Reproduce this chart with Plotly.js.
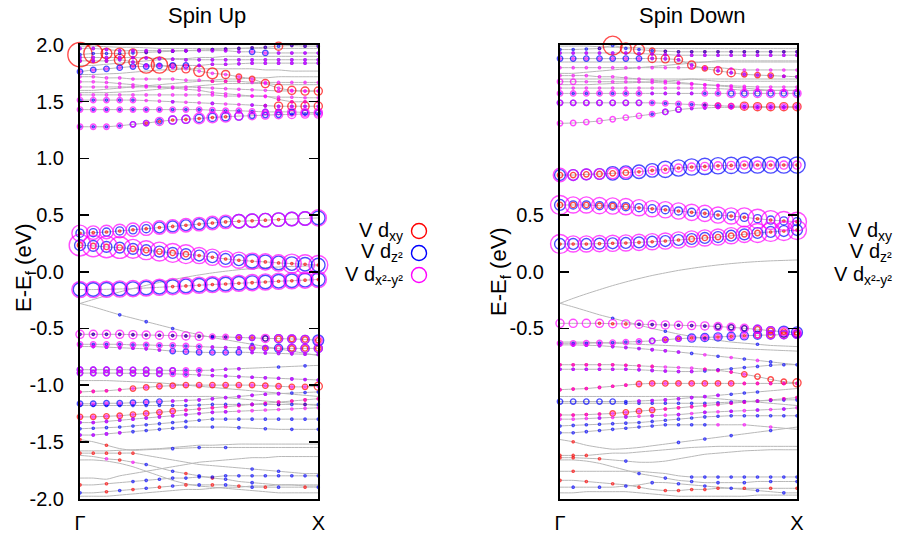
<!DOCTYPE html>
<html><head><meta charset="utf-8">
<script src="https://cdn.plot.ly/plotly-3.0.1.min.js"></script>
<style>html,body{margin:0;padding:0;background:#fff}#chart{width:902px;height:533px}</style>
</head><body><div id="chart"></div>
<script>
// k-point index along Γ → X (19 points)
const kpts = [0,1,2,3,4,5,6,7,8,9,10,11,12,13,14,15,16,17,18];
const kTickLabels = ['Γ','X'];
const orbitalNames = ['V d<sub>xy</sub>','V d<sub>z²</sub>','V d<sub>x²-y²</sub>'];
const panelTitles = ['Spin Up','Spin Down'];
const yTickVals = [-2,-1.5,-1,-0.5,0,0.5,1,1.5,2];
const yTickText = ['-2.0','-1.5','-1.0','-0.5','0.0','0.5','1.0','1.5','2.0'];
const dnTickVals = [-0.5,0,0.5];
const dnTickText = ['-0.5','0.0','0.5'];

// ---------- Spin up: band energies (eV) with projections ----------
const upE = [
[0.34,0.345,0.35,0.36,0.37,0.38,0.39,0.40,0.41,0.42,0.43,0.44,0.445,0.45,0.455,0.46,0.465,0.47,0.475],
[0.234,0.228,0.219,0.213,0.202,0.19,0.178,0.166,0.155,0.143,0.128,0.113,0.102,0.093,0.087,0.078,0.072,0.066,0.06],
[-0.157,-0.157,-0.155,-0.152,-0.149,-0.143,-0.137,-0.131,-0.125,-0.119,-0.113,-0.108,-0.102,-0.096,-0.09,-0.084,-0.079,-0.074,-0.068],
[-0.552,-0.552,-0.552,-0.552,-0.555,-0.558,-0.56,-0.563,-0.566,-0.57,-0.572,-0.575,-0.58,-0.583,-0.588,-0.59,-0.593,-0.597,-0.605],
[-0.64,-0.64,-0.64,-0.64,-0.645,-0.645,-0.65,-0.65,-0.655,-0.66,-0.665,-0.668,-0.67,-0.672,-0.674,-0.675,-0.676,-0.676,-0.676],
[-0.66,-0.66,-0.665,-0.67,-0.675,-0.68,-0.69,-0.70,-0.705,-0.71,-0.712,-0.712,-0.71,-0.712,-0.716,-0.72,-0.724,-0.728,-0.73],
[-0.28,-0.31,-0.345,-0.38,-0.41,-0.44,-0.47,-0.50,-0.53,-0.555,-0.58,-0.60,-0.62,-0.64,-0.66,-0.68,-0.70,-0.72,-0.74],
[-0.864,-0.864,-0.864,-0.864,-0.865,-0.866,-0.868,-0.87,-0.87,-0.87,-0.868,-0.86,-0.855,-0.85,-0.845,-0.84,-0.835,-0.83,-0.826],
[-0.894,-0.894,-0.894,-0.895,-0.896,-0.898,-0.9,-0.9,-0.905,-0.91,-0.915,-0.92,-0.925,-0.93,-0.935,-0.94,-0.945,-0.95,-0.955],
[-1.06,-1.055,-1.05,-1.04,-1.03,-1.02,-1.01,-1.005,-1.0,-1.0,-1.0,-1.0,-1.0,-1.0,-1.005,-1.01,-1.015,-1.015,-1.01],
[-1.164,-1.164,-1.16,-1.16,-1.155,-1.15,-1.145,-1.14,-1.135,-1.13,-1.12,-1.11,-1.1,-1.09,-1.08,-1.075,-1.07,-1.065,-1.06],
[-1.18,-1.18,-1.18,-1.18,-1.18,-1.18,-1.18,-1.18,-1.18,-1.175,-1.17,-1.17,-1.17,-1.17,-1.17,-1.17,-1.17,-1.17,-1.17],
[-1.28,-1.28,-1.275,-1.27,-1.26,-1.25,-1.24,-1.23,-1.22,-1.21,-1.2,-1.19,-1.18,-1.17,-1.16,-1.15,-1.14,-1.13,-1.12],
[-1.33,-1.33,-1.32,-1.31,-1.3,-1.29,-1.28,-1.27,-1.26,-1.25,-1.24,-1.235,-1.23,-1.225,-1.22,-1.215,-1.21,-1.205,-1.2],
[-1.385,-1.38,-1.375,-1.37,-1.36,-1.35,-1.34,-1.33,-1.32,-1.31,-1.3,-1.3,-1.3,-1.3,-1.3,-1.3,-1.3,-1.3,-1.3],
[-1.44,-1.44,-1.43,-1.42,-1.41,-1.4,-1.39,-1.38,-1.37,-1.37,-1.37,-1.37,-1.375,-1.38,-1.385,-1.39,-1.39,-1.39,-1.39],
[-1.48,-1.5,-1.53,-1.56,-1.575,-1.57,-1.565,-1.56,-1.555,-1.55,-1.55,-1.55,-1.55,-1.55,-1.55,-1.55,-1.55,-1.55,-1.55],
[-1.6,-1.6,-1.6,-1.6,-1.6,-1.62,-1.64,-1.66,-1.68,-1.7,-1.71,-1.72,-1.73,-1.74,-1.75,-1.76,-1.77,-1.78,-1.78],
[-1.62,-1.63,-1.65,-1.66,-1.68,-1.7,-1.73,-1.76,-1.78,-1.8,-1.82,-1.83,-1.85,-1.86,-1.87,-1.88,-1.88,-1.89,-1.89],
[-1.88,-1.88,-1.87,-1.86,-1.85,-1.84,-1.83,-1.82,-1.82,-1.81,-1.81,-1.8,-1.8,-1.8,-1.8,-1.8,-1.8,-1.8,-1.8],
[-1.95,-1.95,-1.94,-1.93,-1.92,-1.91,-1.9,-1.89,-1.88,-1.88,-1.88,-1.88,-1.89,-1.9,-1.9,-1.9,-1.9,-1.9,-1.9],
[1.279,1.279,1.279,1.288,1.3,1.311,1.326,1.338,1.344,1.352,1.361,1.367,1.373,1.376,1.382,1.385,1.388,1.391,1.391],
[1.43,1.43,1.43,1.43,1.43,1.43,1.43,1.43,1.43,1.43,1.425,1.42,1.42,1.415,1.41,1.41,1.41,1.405,1.405],
[1.514,1.514,1.514,1.514,1.514,1.51,1.505,1.5,1.495,1.49,1.485,1.48,1.475,1.47,1.465,1.46,1.46,1.46,1.46],
[1.63,1.63,1.63,1.63,1.63,1.63,1.63,1.63,1.63,1.625,1.62,1.615,1.61,1.605,1.6,1.595,1.595,1.594,1.594],
[1.915,1.925,1.925,1.925,1.93,1.935,1.94,1.945,1.95,1.955,1.96,1.965,1.97,1.975,1.98,1.99,1.995,1.99,1.99],
[1.86,1.86,1.86,1.87,1.85,1.823,1.823,1.80,1.79,1.77,1.75,1.74,1.72,1.70,1.66,1.62,1.6,1.594,1.594],
[1.765,1.78,1.79,1.80,1.81,1.81,1.815,1.82,1.82,1.82,1.83,1.83,1.835,1.84,1.84,1.84,1.84,1.84,1.84],
[1.97,1.97,1.96,1.95,1.95,1.95,1.95,1.95,1.95,1.95,1.95,1.95,1.94,1.94,1.93,1.93,1.93,1.93,1.93],
[1.89,1.89,1.89,1.89,1.89,1.885,1.88,1.875,1.87,1.87,1.87,1.87,1.87,1.87,1.87,1.87,1.87,1.87,1.87],
[1.72,1.72,1.71,1.71,1.70,1.70,1.70,1.70,1.69,1.69,1.68,1.68,1.68,1.67,1.67,1.67,1.67,1.67,1.67],
[1.675,1.675,1.67,1.66,1.65,1.64,1.63,1.62,1.61,1.6,1.58,1.57,1.56,1.55,1.545,1.54,1.54,1.535,1.535],
[1.56,1.56,1.56,1.56,1.56,1.56,1.56,1.56,1.56,1.56,1.56,1.55,1.55,1.55,1.55,1.52,1.5,1.5,1.5]
];
// projection weights per band (0 = none), same order as upE
const upXY = [
[1,1,1,1,1,1,1,1,1,1,1,1,1,1,1,1,0,0,0],
[2,2,2,2,2,2,2,2,2,1,1,1,1,1,1,1,1,1,1],
[0,0,0,0,0,0,0,1,1,1,1,1,1,1,1,1,1,1,1],
[1,1,1,1,1,1,1,1,1,1,1,1,1,1,2,2,2,2,2],
[0,0,0,0,0,0,0,0,0,0,0,0,0,1,1,2,2,2,2],
null,null,null,null,
[1,1,1,1,2,2,2,2,2,2,2,2,2,2,2,2,2,2,3],
null,
[0,0,0,0,0,0,0,0,0,0,0,0,0,0,0,1,0,1,0],
[2,2,2,2,2,2,2,2,1,1,1,1,1,1,1,1,1,1,1],
null,null,null,
[1,0,1,0,0,0,0,0,0,0,0,0,0,0,0,0,0,0,0],
[1,1,1,1,1,0,0,0,0,0,0,0,0,0,0,0,0,0,0],
[0,0,0,1,0,0,0,0,1,0,1,0,0,0,0,0,0,0,0],
[1,0,1,0,0,0,0,0,0,0,0,0,0,0,0,0,0,0,0],
[0,0,1,0,1,0,1,0,1,0,1,0,1,0,1,0,0,1,0],
[0,0,0,0,0,1,1,1,1,1,1,1,0,0,0,0,0,0,0],
null,
[0,0,0,0,0,0,0,0,0,0,0,0,0,0,1,3,3,3,3],
null,
[9,7,4,4,3,1,1,1,1,1,1,1,1,1,1,3,1,1,1],
[1,1,1,4,3,6,6,3,3,4,4,3,2,2,3,3,3,3,3],
null,null,null,
[0,0,0,0,0,0,0,0,0,0,1,1,1,0,0,0,0,0,0],
null,
[0,0,0,0,0,0,0,0,0,0,0,0,0,0,0,1,1,1,1]
];
const upZ2 = [
[3,3,3,3,3,3,4,4,4,4,4,4,5,5,5,5,5,5,5],
[4,4,4,4,4,4,4,4,4,4,4,4,4,5,5,5,5,5,5],
[5,5,5,5,5,5,5,5,5,5,5,5,5,5,5,5,5,5,5],
[1,1,1,1,1,1,1,1,1,1,1,1,2,2,2,3,3,3,4],
[1,1,1,1,1,1,1,1,1,1,1,1,1,2,2,3,3,3,3],
[1,1,1,1,1,1,1,2,2,2,2,2,2,1,1,1,1,1,1],
[0,0,0,1,0,1,0,1,0,0,1,0,0,1,0,0,0,0,0],
[2,2,2,2,2,2,2,2,1,1,1,1,1,0,0,1,0,1,0],
[2,2,2,2,2,2,2,1,1,1,1,1,1,1,1,1,1,1,1],
null,
[2,2,2,2,2,2,2,1,1,1,1,1,1,1,1,1,1,1,1],
[1,1,1,1,1,1,1,1,1,1,1,1,1,1,1,1,1,1,1],
null,
[1,1,1,1,1,1,1,1,1,1,1,1,0,0,0,0,0,0,0],
[1,1,1,1,1,1,1,1,1,1,1,1,1,1,1,1,1,1,1],
[1,1,1,1,1,1,1,1,1,0,1,0,1,0,1,0,1,0,1],
[0,0,0,0,0,0,0,1,0,1,0,1,0,0,0,0,0,0,0],
[0,0,0,0,0,0,0,0,0,0,0,0,0,1,0,1,0,0,0],
[0,0,0,0,0,1,0,1,0,1,0,1,0,1,0,0,0,0,0],
[0,0,0,0,1,1,1,1,1,1,1,1,1,1,1,1,1,1,1],
[1,0,0,1,0,1,0,1,0,1,0,1,0,1,0,1,0,0,1],
[1,1,1,1,2,2,2,3,3,3,3,3,3,2,2,2,1,1,1],
[1,1,1,1,1,1,1,1,1,1,1,1,1,1,2,2,2,2,2],
[1,1,1,1,1,0,0,1,0,0,1,0,0,1,1,1,1,1,1],
null,
[1,1,1,1,1,1,1,1,1,1,1,1,1,1,1,1,1,1,1],
[1,1,1,1,1,1,1,0,0,0,0,0,0,0,0,0,0,0,0],
[2,2,2,2,2,2,2,2,2,1,1,1,1,1,1,1,1,1,1],
[1,1,1,1,1,1,1,1,1,1,1,1,1,2,2,1,1,1,1],
[1,1,1,1,1,1,1,1,1,1,1,1,1,1,1,1,1,1,1],
null,null,null
];
const upX2 = [
[6,5,5,5,5,5,5,5,5,5,5,5,5,5,5,5,5,5,6],
[8,8,8,8,7,7,7,7,7,6,6,6,6,6,6,6,7,7,7],
[6,6,6,6,6,6,6,6,6,6,6,6,6,6,6,6,6,6,6],
[3,3,3,3,3,3,3,3,3,3,2,2,2,2,3,3,3,3,3],
[2,2,2,2,2,2,2,2,2,2,1,1,1,2,2,2,3,3,3],
[1,1,1,1,1,1,1,1,1,1,1,1,1,1,1,1,1,1,1],
null,
[2,2,2,2,2,2,2,2,2,2,1,1,1,0,0,0,0,0,0],
[2,2,2,2,2,2,2,2,2,1,1,1,1,1,1,1,1,1,1],
[1,1,1,1,1,1,1,1,1,1,1,1,1,1,1,1,1,1,1],
[1,1,1,1,1,1,1,1,1,1,1,1,1,1,1,1,0,0,0],
null,
[1,1,1,1,1,1,1,1,1,1,1,1,1,1,1,1,1,1,1],
[1,1,1,1,1,1,1,1,1,1,1,1,1,1,1,1,1,1,1],
null,
[1,1,1,1,0,0,0,0,0,0,0,0,0,0,0,0,0,0,0],
null,null,
[0,0,1,0,1,0,0,0,0,0,0,0,0,0,0,0,0,0,0],
null,null,
[2,2,2,2,2,2,3,3,3,4,4,4,3,3,3,3,3,3,3],
[2,2,2,2,2,2,2,2,2,2,2,2,2,2,2,2,3,3,3],
[2,2,2,2,2,1,1,1,1,1,1,1,1,1,1,1,1,1,1],
[1,1,1,1,1,1,1,1,1,1,1,1,1,1,1,1,1,1,1],
null,
[1,1,1,1,1,1,1,1,1,1,1,1,1,1,1,1,1,1,1],
[1,1,1,1,1,1,1,1,1,1,1,1,1,1,1,1,1,1,1],
[1,1,1,1,1,1,1,1,1,1,1,1,1,1,1,1,1,1,1],
[1,1,1,1,1,1,1,1,1,1,1,1,1,1,1,1,1,1,1],
[1,1,1,1,1,1,1,1,1,1,1,1,1,1,1,1,1,1,1],
[1,1,1,1,1,1,1,1,1,1,1,1,1,1,1,1,1,1,1],
[1,1,1,1,1,1,1,1,1,1,1,1,1,1,1,1,1,1,1]
];
// bands drawn only as grey lines (spin up)
const upGray = [
[-0.28,-0.245,-0.21,-0.178,-0.148,-0.12,-0.094,-0.07,-0.048,-0.028,-0.01,0.005,0.018,0.028,0.036,0.042,0.047,0.05,0.053],
[-1.82,-1.82,-1.83,-1.8,-1.78,-1.76,-1.74,-1.72,-1.7,-1.68,-1.67,-1.66,-1.65,-1.64,-1.64,-1.63,-1.63,-1.63,-1.63],
[-1.66,-1.66,-1.67,-1.69,-1.72,-1.76,-1.8,-1.84,-1.87,-1.89,-1.9,-1.91,-1.92,-1.93,-1.94,-1.95,-1.95,-1.95,-1.95],
[-1.98,-1.98,-1.98,-1.97,-1.96,-1.95,-1.94,-1.93,-1.92,-1.92,-1.91,-1.9,-1.9,-1.89,-1.89,-1.88,-1.88,-1.88,-1.88],
[-1.58,-1.58,-1.58,-1.575,-1.57,-1.565,-1.56,-1.55,-1.54,-1.53,-1.53,-1.525,-1.52,-1.52,-1.52,-1.52,-1.52,-1.52,-1.52],
[-0.96,-0.96,-0.96,-0.965,-0.97,-0.975,-0.98,-0.99,-1.0,-1.01,-1.02,-1.03,-1.04,-1.05,-1.06,-1.07,-1.08,-1.09,-1.1],
[-1.1,-1.1,-1.1,-1.1,-1.1,-1.1,-1.1,-1.1,-1.1,-1.1,-1.1,-1.11,-1.12,-1.13,-1.14,-1.15,-1.16,-1.17,-1.18],
[1.99,1.99,1.985,1.98,1.98,1.975,1.97,1.97,1.97,1.97,1.97,1.97,1.97,1.97,1.97,1.97,1.97,1.97,1.97],
[1.82,1.82,1.83,1.84,1.85,1.86,1.87,1.88,1.88,1.89,1.89,1.9,1.9,1.9,1.9,1.9,1.9,1.9,1.9],
[1.74,1.74,1.745,1.75,1.76,1.77,1.78,1.78,1.79,1.79,1.79,1.79,1.79,1.79,1.78,1.78,1.77,1.77,1.77],
[1.6,1.6,1.61,1.62,1.63,1.64,1.65,1.66,1.67,1.68,1.69,1.7,1.7,1.71,1.71,1.72,1.72,1.72,1.72],
[1.58,1.58,1.58,1.585,1.59,1.6,1.61,1.62,1.63,1.64,1.65,1.66,1.66,1.66,1.66,1.65,1.65,1.65,1.65]
];

// ---------- Spin down ----------
const dnE = [
[0.853,0.853,0.859,0.862,0.868,0.874,0.882,0.894,0.903,0.915,0.924,0.929,0.935,0.938,0.941,0.941,0.941,0.941,0.941],
[0.589,0.589,0.589,0.583,0.58,0.574,0.565,0.556,0.547,0.536,0.524,0.515,0.5,0.492,0.48,0.468,0.456,0.448,0.442],
[0.245,0.245,0.245,0.248,0.251,0.254,0.259,0.265,0.271,0.28,0.289,0.298,0.306,0.318,0.33,0.342,0.351,0.359,0.368],
[-0.278,-0.31,-0.345,-0.38,-0.41,-0.44,-0.47,-0.50,-0.525,-0.55,-0.57,-0.59,-0.605,-0.62,-0.63,-0.64,-0.65,-0.655,-0.66],
[-0.455,-0.455,-0.455,-0.455,-0.458,-0.46,-0.463,-0.466,-0.469,-0.472,-0.475,-0.478,-0.484,-0.49,-0.499,-0.508,-0.52,-0.528,-0.535],
[-0.631,-0.631,-0.63,-0.628,-0.625,-0.62,-0.615,-0.61,-0.6,-0.59,-0.585,-0.58,-0.575,-0.57,-0.565,-0.56,-0.558,-0.555,-0.552],
[-0.645,-0.645,-0.648,-0.652,-0.66,-0.668,-0.677,-0.687,-0.697,-0.708,-0.72,-0.732,-0.745,-0.757,-0.77,-0.782,-0.795,-0.808,-0.82],
[-0.82,-0.82,-0.82,-0.82,-0.82,-0.825,-0.83,-0.835,-0.84,-0.845,-0.85,-0.86,-0.87,-0.885,-0.905,-0.925,-0.95,-0.97,-0.98],
[-0.86,-0.86,-0.86,-0.86,-0.86,-0.86,-0.865,-0.87,-0.875,-0.88,-0.88,-0.875,-0.865,-0.855,-0.845,-0.835,-0.825,-0.82,-0.82],
[-1.04,-1.035,-1.03,-1.02,-1.01,-1.0,-0.99,-0.985,-0.985,-0.985,-0.985,-0.985,-0.985,-0.985,-0.985,-0.985,-0.985,-0.985,-0.985],
[-1.145,-1.145,-1.145,-1.145,-1.145,-1.145,-1.14,-1.135,-1.13,-1.12,-1.11,-1.1,-1.09,-1.08,-1.07,-1.06,-1.05,-1.04,-1.03],
[-1.16,-1.16,-1.16,-1.16,-1.16,-1.16,-1.16,-1.16,-1.16,-1.16,-1.16,-1.16,-1.155,-1.15,-1.145,-1.14,-1.135,-1.13,-1.13],
[-1.263,-1.263,-1.26,-1.255,-1.25,-1.24,-1.23,-1.22,-1.21,-1.2,-1.19,-1.18,-1.17,-1.16,-1.15,-1.14,-1.13,-1.12,-1.11],
[-1.3,-1.3,-1.295,-1.29,-1.285,-1.28,-1.275,-1.27,-1.265,-1.26,-1.25,-1.24,-1.235,-1.23,-1.225,-1.22,-1.215,-1.21,-1.2],
[-1.36,-1.355,-1.35,-1.345,-1.34,-1.335,-1.33,-1.32,-1.31,-1.3,-1.29,-1.28,-1.275,-1.27,-1.27,-1.27,-1.27,-1.27,-1.27],
[-1.42,-1.42,-1.41,-1.4,-1.39,-1.38,-1.37,-1.36,-1.35,-1.35,-1.35,-1.35,-1.35,-1.35,-1.35,-1.36,-1.37,-1.38,-1.39],
[-1.48,-1.5,-1.53,-1.55,-1.565,-1.56,-1.55,-1.535,-1.52,-1.505,-1.49,-1.475,-1.46,-1.445,-1.43,-1.415,-1.4,-1.385,-1.37],
[-1.62,-1.62,-1.62,-1.61,-1.6,-1.6,-1.59,-1.58,-1.57,-1.56,-1.55,-1.545,-1.54,-1.54,-1.54,-1.54,-1.54,-1.54,-1.54],
[-1.64,-1.64,-1.645,-1.65,-1.66,-1.67,-1.68,-1.68,-1.67,-1.65,-1.63,-1.61,-1.6,-1.59,-1.58,-1.575,-1.57,-1.57,-1.57],
[-1.66,-1.66,-1.67,-1.69,-1.72,-1.75,-1.78,-1.8,-1.82,-1.84,-1.85,-1.86,-1.86,-1.86,-1.86,-1.85,-1.85,-1.85,-1.85],
[-1.76,-1.76,-1.76,-1.76,-1.76,-1.76,-1.76,-1.77,-1.78,-1.8,-1.81,-1.81,-1.81,-1.81,-1.81,-1.81,-1.81,-1.81,-1.81],
[-1.84,-1.84,-1.85,-1.86,-1.87,-1.88,-1.9,-1.92,-1.93,-1.93,-1.92,-1.92,-1.91,-1.91,-1.91,-1.91,-1.91,-1.91,-1.91],
[-1.9,-1.9,-1.9,-1.9,-1.9,-1.89,-1.88,-1.86,-1.86,-1.87,-1.88,-1.89,-1.9,-1.91,-1.92,-1.93,-1.94,-1.95,-1.95],
[1.309,1.312,1.32,1.33,1.345,1.36,1.375,1.39,1.41,1.43,1.44,1.445,1.45,1.45,1.45,1.45,1.45,1.45,1.45],
[1.49,1.49,1.49,1.49,1.49,1.49,1.49,1.49,1.485,1.48,1.475,1.47,1.465,1.46,1.46,1.456,1.456,1.456,1.456],
[1.573,1.573,1.573,1.573,1.573,1.573,1.573,1.573,1.573,1.573,1.573,1.573,1.573,1.573,1.573,1.573,1.573,1.573,1.573],
[1.676,1.676,1.676,1.676,1.676,1.676,1.676,1.67,1.665,1.66,1.655,1.65,1.645,1.64,1.635,1.63,1.63,1.63,1.63],
[1.96,1.96,1.965,1.97,1.995,1.97,1.96,1.95,1.945,1.94,1.94,1.94,1.94,1.94,1.94,1.94,1.94,1.94,1.94],
[1.88,1.88,1.88,1.88,1.88,1.88,1.88,1.882,1.878,1.87,1.823,1.794,1.773,1.756,1.741,1.735,1.73,1.725,1.72],
[1.93,1.93,1.93,1.93,1.93,1.93,1.925,1.92,1.915,1.91,1.91,1.91,1.91,1.91,1.91,1.91,1.91,1.91,1.91],
[1.8,1.8,1.8,1.8,1.8,1.8,1.8,1.8,1.8,1.8,1.8,1.8,1.8,1.79,1.78,1.78,1.78,1.78,1.78],
[1.62,1.62,1.62,1.62,1.62,1.62,1.62,1.62,1.62,1.62,1.62,1.62,1.615,1.61,1.6,1.6,1.6,1.6,1.6],
[1.73,1.73,1.73,1.72,1.72,1.71,1.7,1.69,1.68,1.67,1.66,1.65,1.64,1.63,1.62,1.61,1.6,1.6,1.6]
];
const dnXY = [
[2,2,2,2,2,2,1,1,1,1,1,1,1,1,1,1,1,1,1],
[2,2,2,2,2,2,1,1,1,1,1,1,1,1,1,1,1,1,1],
[1,1,1,1,1,1,1,1,1,1,2,2,2,2,2,2,1,1,1],
null,
[0,0,0,1,1,1,1,1,1,1,1,1,2,2,2,2,2,2,2],
[0,0,0,0,0,0,0,0,1,1,1,1,1,1,1,2,2,2,2],
null,
[1,1,1,1,1,1,1,1,0,0,0,1,1,1,2,2,2,2,3],
null,
[1,1,1,1,1,1,2,2,2,2,2,2,2,2,1,1,1,1,1],
null,null,
[1,1,1,1,2,2,2,2,1,1,1,1,1,1,1,1,1,1,1],
null,null,null,
[0,1,0,0,0,0,0,0,0,0,0,0,0,0,0,0,0,0,0],
[1,1,1,0,0,0,0,0,0,0,0,0,0,0,0,0,0,0,0],
[1,1,0,1,0,0,0,0,0,0,0,0,0,0,0,0,0,0,0],
null,
[0,1,0,0,0,0,0,0,0,0,0,0,0,0,0,0,0,0,0],
[1,0,1,0,1,0,1,0,1,1,1,1,1,0,1,0,1,0,1],
null,null,
[0,0,0,0,0,0,0,0,0,0,0,1,2,2,3,3,3,3,3],
null,null,
[0,0,0,1,7,4,4,2,1,1,1,1,1,1,1,1,1,1,1],
[0,0,0,0,0,0,0,3,3,3,3,2,3,3,2,2,2,1,1],
null,null,null,null
];
const dnZ2 = [
[4,4,4,4,5,5,5,5,6,6,6,6,6,6,6,6,6,6,6],
[4,3,3,3,3,3,3,3,3,3,3,3,3,3,3,3,3,3,3],
[4,4,4,4,4,4,4,4,4,4,4,4,4,4,4,4,4,4,4],
[0,0,0,0,1,0,0,0,1,0,0,1,0,0,0,1,0,0,0],
[0,0,0,0,0,0,1,1,1,1,1,1,2,2,2,3,3,4,4],
[1,1,1,1,1,1,1,2,2,2,3,3,3,3,3,3,3,3,3],
[1,1,1,1,1,1,1,1,1,1,1,0,1,0,1,0,1,0,0],
null,
[1,1,1,1,1,1,1,1,1,1,1,1,1,1,1,1,1,1,1],
null,
[2,2,2,2,2,1,1,1,1,1,1,1,1,1,1,1,0,0,0],
[0,0,0,0,0,1,1,1,1,1,1,1,1,1,1,1,1,1,1],
null,
[0,0,0,1,0,1,0,1,0,1,0,1,0,1,0,1,0,1,0],
[1,1,1,1,1,1,1,1,1,1,1,1,1,1,1,1,1,1,1],
[1,1,1,1,1,1,1,1,1,1,1,1,0,0,0,0,0,0,0],
[0,0,0,0,0,0,0,0,0,1,0,1,0,1,0,0,1,0,0],
null,
[0,0,0,0,0,1,0,0,0,0,0,0,0,0,0,0,0,0,0],
[0,0,0,0,0,0,1,0,1,0,1,0,1,0,1,0,1,0,1],
[0,0,0,0,0,0,0,0,0,0,1,1,1,1,1,1,1,1,1],
null,
[0,1,0,1,0,1,0,1,0,1,0,1,0,1,0,1,0,1,0],
[0,0,0,0,0,0,0,1,2,2,1,1,1,1,1,1,1,1,1],
[2,2,2,2,2,2,2,1,1,1,1,1,1,1,1,1,1,1,1],
[1,1,1,1,1,1,1,1,1,1,1,1,1,2,2,2,2,2,2],
null,
[1,1,1,1,1,1,1,1,1,1,1,1,1,1,1,1,1,1,1],
[2,2,2,2,2,2,2,1,1,1,1,1,1,1,1,1,1,1,1],
[1,1,1,1,1,1,1,1,1,1,1,1,1,1,1,1,1,1,1],
null,null,null
];
const dnX2 = [
[5,4,4,4,4,4,3,3,3,3,3,3,3,3,3,3,3,3,3],
[7,6,6,6,6,6,6,6,6,6,6,6,6,6,7,7,7,7,7],
[7,6,6,6,6,6,6,6,6,6,6,6,6,6,6,7,7,7,7],
null,
[3,3,3,3,3,3,3,3,3,3,3,3,3,3,3,3,3,3,3],
[2,2,2,2,2,2,2,2,2,2,2,2,2,2,2,2,3,3,3],
[1,1,1,1,1,1,1,1,1,1,0,1,0,1,0,1,0,0,0],
[1,1,1,1,1,1,1,1,1,1,1,1,1,1,1,0,0,0,0],
[1,1,1,1,1,1,1,1,1,1,1,0,0,0,0,0,0,0,0],
[1,1,1,1,1,1,1,1,1,1,1,1,1,1,1,1,1,1,1],
[0,0,0,0,0,0,1,1,1,1,1,1,1,0,0,0,0,0,0],
null,
[1,1,1,1,1,1,1,1,1,1,1,1,1,1,1,1,1,1,1],
[1,1,1,1,1,1,1,1,1,1,1,1,1,1,1,1,1,1,1],
null,
[0,0,0,0,0,0,0,0,0,0,0,0,1,0,1,0,1,0,0],
null,null,null,null,null,null,null,
[2,2,2,2,2,2,2,2,2,2,1,1,1,1,1,1,1,1,1],
[2,2,2,2,2,2,2,2,2,2,2,2,2,2,2,2,2,2,2],
[2,2,2,2,2,2,2,1,1,1,1,2,2,3,3,3,3,3,3],
[2,2,1,1,1,1,1,1,1,1,1,1,1,1,1,1,1,1,1],
null,
[1,1,1,1,1,1,1,1,1,1,1,1,1,1,1,1,1,1,1],
[1,1,1,1,1,1,1,1,1,1,1,1,1,1,1,1,1,1,1],
[1,1,1,1,1,1,1,1,1,1,1,1,1,1,1,1,1,1,1],
[1,1,1,1,1,1,1,1,1,1,1,1,1,1,1,1,1,1,1],
[1,1,1,1,1,1,1,1,1,1,1,1,1,1,1,1,1,1,1]
];
const dnGray = [
[-0.278,-0.235,-0.195,-0.158,-0.122,-0.09,-0.06,-0.033,-0.01,0.012,0.03,0.046,0.06,0.072,0.082,0.09,0.096,0.1,0.104],
[-0.62,-0.62,-0.622,-0.626,-0.63,-0.635,-0.64,-0.645,-0.65,-0.655,-0.66,-0.665,-0.67,-0.675,-0.68,-0.685,-0.69,-0.695,-0.7],
[-1.95,-1.95,-1.94,-1.94,-1.94,-1.94,-1.95,-1.96,-1.97,-1.98,-1.98,-1.98,-1.98,-1.98,-1.98,-1.97,-1.97,-1.97,-1.97],
[-1.1,-1.1,-1.1,-1.1,-1.1,-1.1,-1.1,-1.1,-1.1,-1.1,-1.1,-1.11,-1.12,-1.13,-1.14,-1.15,-1.16,-1.17,-1.18],
[1.99,1.99,1.99,1.985,1.98,1.98,1.975,1.97,1.97,1.97,1.97,1.97,1.97,1.97,1.97,1.97,1.97,1.97,1.97],
[1.85,1.85,1.85,1.85,1.85,1.85,1.85,1.85,1.85,1.85,1.85,1.85,1.85,1.85,1.85,1.85,1.85,1.85,1.85],
[1.75,1.75,1.76,1.77,1.78,1.79,1.8,1.81,1.82,1.83,1.84,1.85,1.86,1.86,1.86,1.86,1.86,1.86,1.86],
[1.65,1.65,1.65,1.655,1.66,1.665,1.67,1.675,1.68,1.69,1.7,1.7,1.7,1.7,1.7,1.7,1.7,1.7,1.7],
[1.7,1.7,1.7,1.7,1.7,1.7,1.7,1.7,1.7,1.7,1.7,1.69,1.68,1.68,1.68,1.68,1.68,1.68,1.68]
];

const orbitalColors = ['#ff0000','#0000ff','#ff00ff'];
const FONT = 'Liberation Sans, Arial, Helvetica, sans-serif';
// marker diameter (px) for a projection weight level
function markerSize(w) { return w <= 1 ? 2.2 : 2.7 * w; }

function panelTraces(E, W, gray, xa, ya) {
  const tr = [];
  gray.concat(E).forEach(b => tr.push({
    type:'scatter', mode:'lines', x:kpts, y:b, xaxis:xa, yaxis:ya,
    line:{color:'#b8b8b8', width:1, shape:'spline', smoothing:0.6},
    hoverinfo:'skip', showlegend:false
  }));
  W.forEach((wl, o) => {
    const x = [], y = [], s = [];
    E.forEach((b, i) => {
      const w = wl[i];
      if (!w) return;
      w.forEach((v, k) => { if (v > 0) { x.push(kpts[k]); y.push(b[k]); s.push(markerSize(v)); } });
    });
    tr.push({
      type:'scatter', mode:'markers', x, y, xaxis:xa, yaxis:ya, cliponaxis:false,
      name: orbitalNames[o],
      marker:{symbol:'circle-open', size:s, color:orbitalColors[o], line:{width:1.4, color:orbitalColors[o]}},
      hoverinfo:'skip', showlegend:false
    });
  });
  return tr;
}

const data = [].concat(
  panelTraces(upE, [upXY, upZ2, upX2], upGray, 'x', 'y'),
  panelTraces(dnE, [dnXY, dnZ2, dnX2], dnGray, 'x2', 'y2')
);

const W = 902, H = 533;
const px = v => v / W, py = v => (H - v) / H;
const yDom = [py(498.5), py(45)];

const xBase = {
  range:[0,18], tickvals:[0,18], ticktext:kTickLabels, ticks:'',
  showline:true, mirror:true, linecolor:'#000', linewidth:2,
  showgrid:false, zeroline:false, tickfont:{family:FONT, size:20, color:'#000'},
  ticklabelstandoff:5, fixedrange:true
};
const yBase = {
  range:[-2,2], ticks:'inside', ticklen:9, tickwidth:1.5, tickcolor:'#000',
  showline:true, mirror:'ticks', linecolor:'#000', linewidth:2,
  showgrid:false, zeroline:false, tickfont:{family:FONT, size:20, color:'#000'},
  ticklabelstandoff:10, fixedrange:true
};

const ann = [];
const legendRows = [231, 253, 275];
ann.push({text:panelTitles[0], x:px(207), y:py(16), xref:'paper', yref:'paper', showarrow:false, xanchor:'center', yanchor:'middle', font:{family:FONT, size:22, color:'#000'}});
ann.push({text:panelTitles[1], x:px(692), y:py(16), xref:'paper', yref:'paper', showarrow:false, xanchor:'center', yanchor:'middle', font:{family:FONT, size:22, color:'#000'}});
ann.push({text:'E-E<sub>f</sub> (eV)', x:px(25), y:py(268), xref:'paper', yref:'paper', showarrow:false, textangle:-90, xanchor:'center', yanchor:'middle', font:{family:FONT, size:22, color:'#000'}});
ann.push({text:'E-E<sub>f</sub> (eV)', x:px(500), y:py(272), xref:'paper', yref:'paper', showarrow:false, textangle:-90, xanchor:'center', yanchor:'middle', font:{family:FONT, size:22, color:'#000'}});
const shapes = [];
orbitalNames.forEach((nm, i) => {
  ann.push({text:nm, x:px(405), y:py(legendRows[i]), xref:'paper', yref:'paper', showarrow:false, xanchor:'right', yanchor:'middle', font:{family:FONT, size:20, color:'#000'}});
  ann.push({text:nm, x:px(894), y:py(legendRows[i]), xref:'paper', yref:'paper', showarrow:false, xanchor:'right', yanchor:'middle', font:{family:FONT, size:20, color:'#000'}});
  shapes.push({type:'circle', xref:'paper', yref:'paper', x0:px(411.5), x1:px(426.5), y0:py(legendRows[i]-7.5), y1:py(legendRows[i]+7.5), line:{color:orbitalColors[i], width:1.4}});
});

const layout = {
  width:W, height:H, margin:{l:0, r:0, t:0, b:0},
  paper_bgcolor:'#fff', plot_bgcolor:'#fff', showlegend:false,
  font:{family:FONT, color:'#000'},
  xaxis:Object.assign({}, xBase, {domain:[px(80), px(318.3)], anchor:'y'}),
  yaxis:Object.assign({}, yBase, {domain:yDom, anchor:'x', tickvals:yTickVals, ticktext:yTickText}),
  xaxis2:Object.assign({}, xBase, {domain:[px(560), px(797)], anchor:'y2'}),
  yaxis2:Object.assign({}, yBase, {domain:yDom, anchor:'x2', tickvals:dnTickVals, ticktext:dnTickText}),
  annotations:ann, shapes:shapes
};

Plotly.newPlot('chart', data, layout, {staticPlot:true, displayModeBar:false});
</script></body></html>
